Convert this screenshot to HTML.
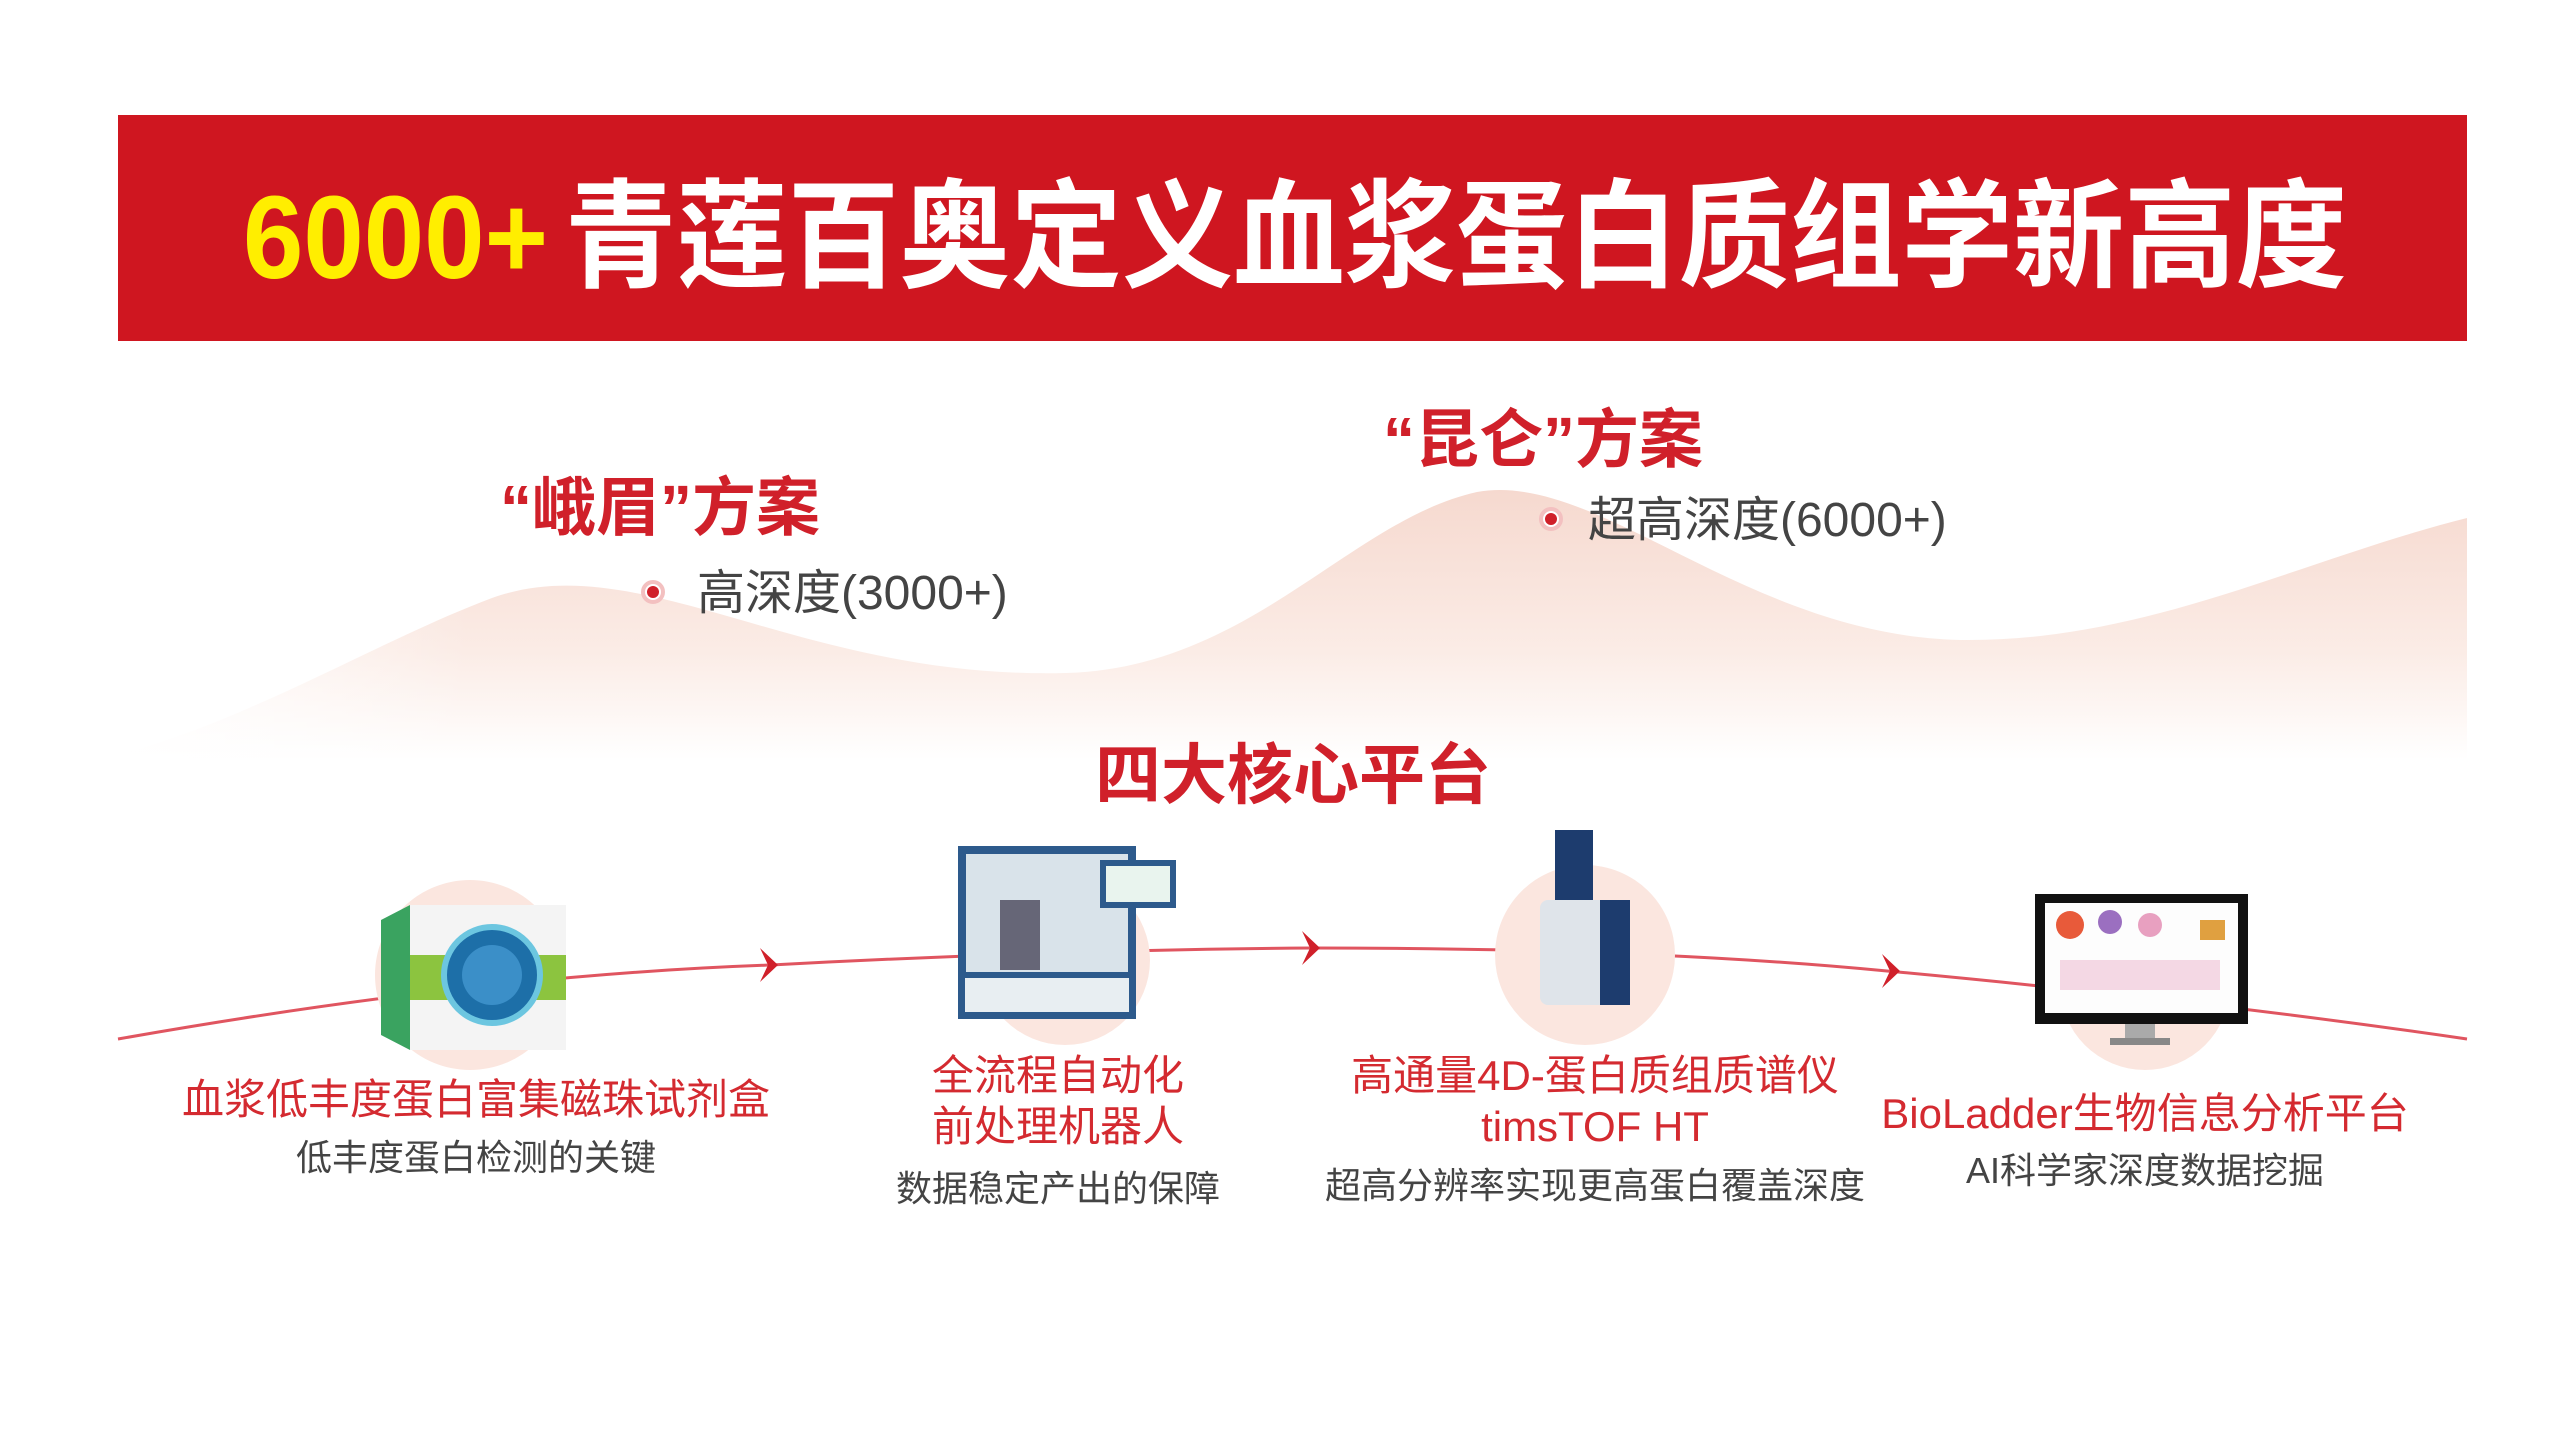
<!DOCTYPE html>
<html><head><meta charset="utf-8"><style>
html,body{margin:0;padding:0;background:#fff;}
svg{display:block}
text{font-family:"Liberation Sans","Noto Sans CJK SC",sans-serif;}
</style></head><body>
<svg width="2560" height="1440" viewBox="0 0 2560 1440" xmlns="http://www.w3.org/2000/svg">
<defs>
<linearGradient id="mt" x1="0" y1="0" x2="0" y2="1">
<stop offset="0" stop-color="#f6d9cf"/>
<stop offset="0.6" stop-color="#fbece6"/>
<stop offset="1" stop-color="#ffffff"/>
</linearGradient>
<linearGradient id="mtside" x1="0" y1="0" x2="1" y2="0">
<stop offset="0" stop-color="#fff" stop-opacity="0.9"/>
<stop offset="0.15" stop-color="#fff" stop-opacity="0"/>
<stop offset="0.9" stop-color="#fff" stop-opacity="0"/>
<stop offset="1" stop-color="#fff" stop-opacity="0"/>
</linearGradient>
</defs>
<rect x="118" y="115" width="2349" height="226" fill="#cf1620"/>
<text x="243" y="278" font-size="118" font-weight="bold" fill="#ffee00" textLength="305" lengthAdjust="spacingAndGlyphs">6000+</text>
<text x="565" y="278" font-size="118" font-weight="bold" fill="#ffffff" textLength="1782" lengthAdjust="spacingAndGlyphs">青莲百奥定义血浆蛋白质组学新高度</text>
<!-- mountains -->
<path d="M118 755 C250 720 380 640 492 598 C640 545 800 680 1066 673 C1250 668 1350 520 1477 492 C1600 470 1750 640 1969 640 C2150 640 2300 560 2467 518 L2467 760 L118 760 Z" fill="url(#mt)"/>
<rect x="118" y="470" width="2349" height="300" fill="url(#mtside)"/>
<text x="500" y="530" font-size="64" font-weight="bold" fill="#d0202a">“峨眉”方案</text>
<circle cx="653" cy="592" r="10" fill="#fff" stroke="#f3c0c0" stroke-width="4"/><circle cx="653" cy="592" r="6" fill="#d0202a"/>
<text x="697" y="609" font-size="48" fill="#444">高深度(3000+)</text>
<text x="1383" y="462" font-size="64" font-weight="bold" fill="#d0202a">“昆仑”方案</text>
<circle cx="1551" cy="519" r="10" fill="#fff" stroke="#f3c0c0" stroke-width="4"/><circle cx="1551" cy="519" r="6" fill="#d0202a"/>
<text x="1588" y="536" font-size="48" fill="#444">超高深度(6000+)</text>
<text x="1293" y="798" font-size="66" font-weight="bold" fill="#d0202a" text-anchor="middle">四大核心平台</text>
<!-- curve -->
<path d="M118 1039 Q480 975 771 965 Q1050 950 1313 948 Q1650 948 1887 971 Q2200 1000 2467 1039" fill="none" stroke="#e05560" stroke-width="3"/>
<path d="M760 948 L778 965 L760 982 L768 965 Z" fill="#d0202a"/>
<path d="M1302 931 L1320 948 L1302 965 L1310 948 Z" fill="#d0202a"/>
<path d="M1882 954 L1900 971 L1882 988 L1890 971 Z" fill="#d0202a"/>
<!-- blobs -->
<circle cx="470" cy="975" r="95" fill="#fbe6df"/>
<circle cx="1065" cy="960" r="85" fill="#fbe6df"/>
<circle cx="1585" cy="955" r="90" fill="#fbe6df"/>
<circle cx="2145" cy="985" r="85" fill="#fbe6df"/>
<!-- kit -->
<polygon points="381,920 410,905 410,1050 381,1035" fill="#3aa360"/>
<rect x="410" y="905" width="156" height="145" fill="#f4f4f4"/>
<rect x="410" y="955" width="156" height="45" fill="#8cc43f"/>
<circle cx="492" cy="975" r="48" fill="#1d6fa8" stroke="#6cc6e0" stroke-width="6"/>
<circle cx="492" cy="975" r="30" fill="#3b8fc8"/>
<!-- robot -->
<rect x="962" y="850" width="170" height="165" fill="#d9e3ea" stroke="#2d5a8c" stroke-width="8"/>
<rect x="962" y="975" width="170" height="40" fill="#e8eef2" stroke="#2d5a8c" stroke-width="6"/>
<rect x="1000" y="900" width="40" height="70" fill="#667"/>
<rect x="1100" y="860" width="76" height="48" fill="#2d5a8c"/><rect x="1106" y="866" width="64" height="36" fill="#e9f4ee"/>
<!-- MS -->
<rect x="1555" y="830" width="38" height="120" fill="#1d3c6e"/>
<rect x="1540" y="900" width="90" height="105" rx="8" fill="#dfe4ea"/>
<rect x="1600" y="900" width="30" height="105" fill="#1d3c6e"/>
<!-- monitor -->
<rect x="2035" y="894" width="213" height="130" fill="#111"/>
<rect x="2045" y="903" width="193" height="110" fill="#fdfdfd"/>
<circle cx="2070" cy="925" r="14" fill="#e85a3a"/><circle cx="2110" cy="922" r="12" fill="#9b6fc0"/><circle cx="2150" cy="925" r="12" fill="#e8a0c0"/>
<rect x="2200" y="920" width="25" height="20" fill="#e0a040"/>
<rect x="2060" y="960" width="160" height="30" fill="#f0c8d8" opacity="0.7"/>
<rect x="2125" y="1024" width="30" height="15" fill="#aaa"/><rect x="2110" y="1038" width="60" height="7" fill="#888"/>
<!-- labels -->
<g fill="#d42a30" font-size="42" text-anchor="middle">
<text x="476" y="1114">血浆低丰度蛋白富集磁珠试剂盒</text>
<text x="1058" y="1090">全流程自动化</text>
<text x="1058" y="1141">前处理机器人</text>
<text x="1595" y="1090">高通量4D-蛋白质组质谱仪</text>
<text x="1595" y="1141">timsTOF HT</text>
<text x="2145" y="1128">BioLadder生物信息分析平台</text>
</g>
<g fill="#444" font-size="36" text-anchor="middle">
<text x="476" y="1170">低丰度蛋白检测的关键</text>
<text x="1058" y="1201">数据稳定产出的保障</text>
<text x="1595" y="1198">超高分辨率实现更高蛋白覆盖深度</text>
<text x="2145" y="1183">AI科学家深度数据挖掘</text>
</g>
</svg>
</body></html>
